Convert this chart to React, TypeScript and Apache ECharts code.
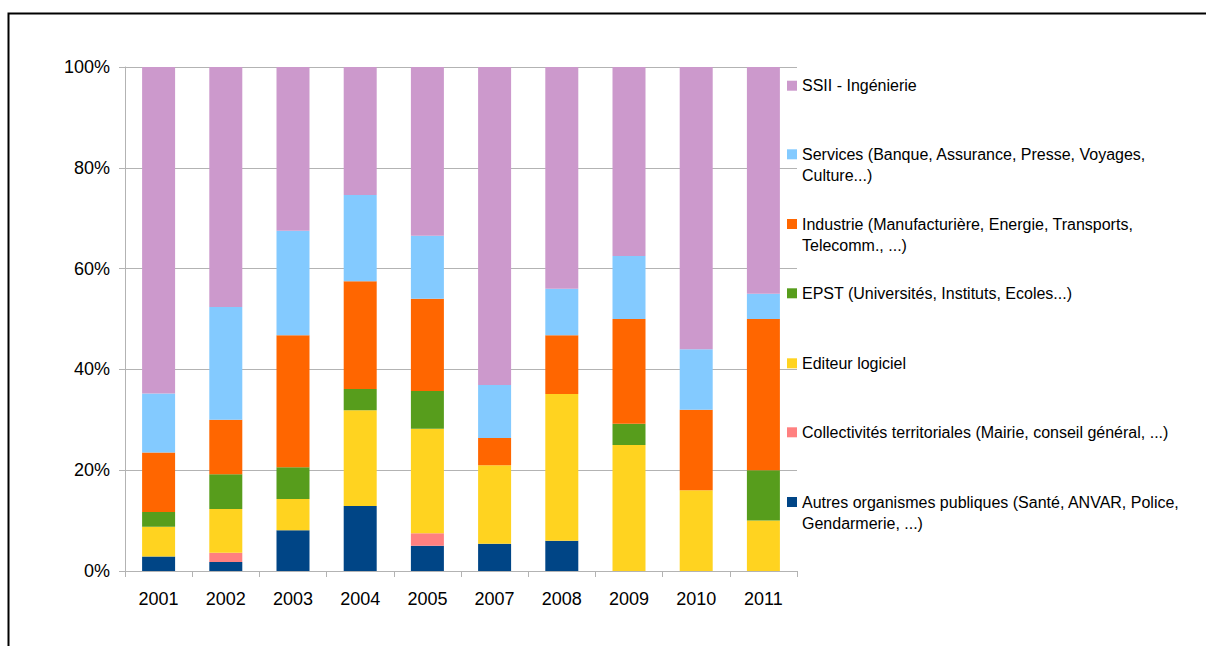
import React, { useEffect, useRef } from "react";
import * as echarts from "echarts";

const categories = ["2001", "2002", "2003", "2004", "2005", "2007", "2008", "2009", "2010", "2011"];

// Percentages per year (bottom to top of each stack)
const autres = [2.9, 1.8, 8.1, 12.9, 5.0, 5.4, 6.0, 0, 0, 0];
const collectivites = [0, 1.8, 0, 0, 2.5, 0, 0, 0, 0, 0];
const editeur = [5.9, 8.7, 6.2, 19.0, 20.7, 15.6, 29.1, 25.0, 16.0, 10.0];
const epst = [2.9, 6.9, 6.3, 4.2, 7.5, 0, 0, 4.2, 0, 10.0];
const industrie = [11.8, 10.8, 26.2, 21.4, 18.3, 5.4, 11.7, 20.8, 16.0, 30.0];
const services = [11.7, 22.4, 20.7, 17.1, 12.5, 10.5, 9.2, 12.5, 12.0, 5.0];
const ssii = [64.8, 47.6, 32.5, 25.4, 33.5, 63.1, 44.0, 37.5, 56.0, 45.0];

const seriesNames = [
  "Autres organismes publiques (Santé, ANVAR, Police, Gendarmerie, ...)",
  "Collectivités territoriales (Mairie, conseil général, ...)",
  "Editeur logiciel",
  "EPST (Universités, Instituts, Ecoles...)",
  "Industrie (Manufacturière, Energie, Transports, Telecomm., ...)",
  "Services (Banque, Assurance, Presse, Voyages, Culture...)",
  "SSII - Ingénierie",
];
const legendLabels = [
  "Autres organismes publiques (Santé, ANVAR, Police,\nGendarmerie, ...)",
  "Collectivités territoriales (Mairie, conseil général, ...)",
  "Editeur logiciel",
  "EPST (Universités, Instituts, Ecoles...)",
  "Industrie (Manufacturière, Energie, Transports,\nTelecomm., ...)",
  "Services (Banque, Assurance, Presse, Voyages,\nCulture...)",
  "SSII - Ingénierie",
];
const seriesData = [autres, collectivites, editeur, epst, industrie, services, ssii];
const colors = ["#004586", "#ff8080", "#ffd320", "#579d1c", "#ff6600", "#83caff", "#cc99cc"];
// icon centre y for each legend item (same order as series)
const legendCenters = [502, 432.3, 363.3, 293.3, 224, 154.3, 85.7];

const FONT = "'Liberation Sans', Arial, sans-serif";

export default function App() {
  const ref = useRef<HTMLDivElement>(null);

  useEffect(() => {
    if (!ref.current) return;
    const chart = echarts.init(ref.current, undefined, { renderer: "svg" });

    const legends = seriesNames.map((name, i) => {
      const twoLines = legendLabels[i].includes("\n");
      // for two-line labels, an empty leading line keeps the first text line level with the icon
      const label = twoLines ? "\n" + legendLabels[i] : legendLabels[i];
      return {
        orient: "vertical",
        left: 787,
        top: legendCenters[i] - (twoLines ? 31.5 : 10.5),
        padding: 0,
        itemWidth: 10,
        itemHeight: 10,
        selectedMode: false,
        data: [{ name, icon: "rect" }],
        formatter: () => label,
        textStyle: {
          fontSize: 16,
          lineHeight: 21,
          color: "#000",
          fontFamily: FONT,
        },
      };
    });

    const option: any = {
      animation: false,
      color: colors,
      textStyle: { fontFamily: FONT },
      grid: { left: 125, top: 67, width: 672, height: 504, containLabel: false },
      legend: legends,
      xAxis: {
        type: "category",
        data: categories,
        boundaryGap: true,
        axisLine: { show: true, lineStyle: { color: "#b3b3b3", width: 1 } },
        axisTick: { show: true, length: 6, alignWithLabel: false, lineStyle: { color: "#b3b3b3" } },
        axisLabel: { color: "#000", fontSize: 18, fontFamily: FONT, margin: 19 },
      },
      yAxis: {
        type: "value",
        min: 0,
        max: 100,
        interval: 20,
        axisLine: { show: true, lineStyle: { color: "#b3b3b3", width: 1 } },
        axisTick: { show: true, length: 6, lineStyle: { color: "#b3b3b3" } },
        splitLine: { show: true, lineStyle: { color: "#b3b3b3", width: 1 } },
        axisLabel: { color: "#000", fontSize: 18, fontFamily: FONT, margin: 15, formatter: "{value}%" },
      },
      series: seriesNames.map((name, i) => ({
        name,
        type: "bar",
        stack: "total",
        barWidth: 33,
        data: seriesData[i],
        itemStyle: { color: colors[i] },
      })),
      graphic: [
        {
          type: "rect",
          silent: true,
          z: 100,
          shape: { x: 8.5, y: 13.5, width: 1400, height: 1000 },
          style: { fill: "none", stroke: "#000", lineWidth: 2 },
        },
      ],
    };

    chart.setOption(option);
    return () => chart.dispose();
  }, []);

  return (
    <div
      ref={ref}
      style={{ position: "absolute", left: 0, top: 0, width: 1206, height: 646, background: "#fff" }}
    />
  );
}
